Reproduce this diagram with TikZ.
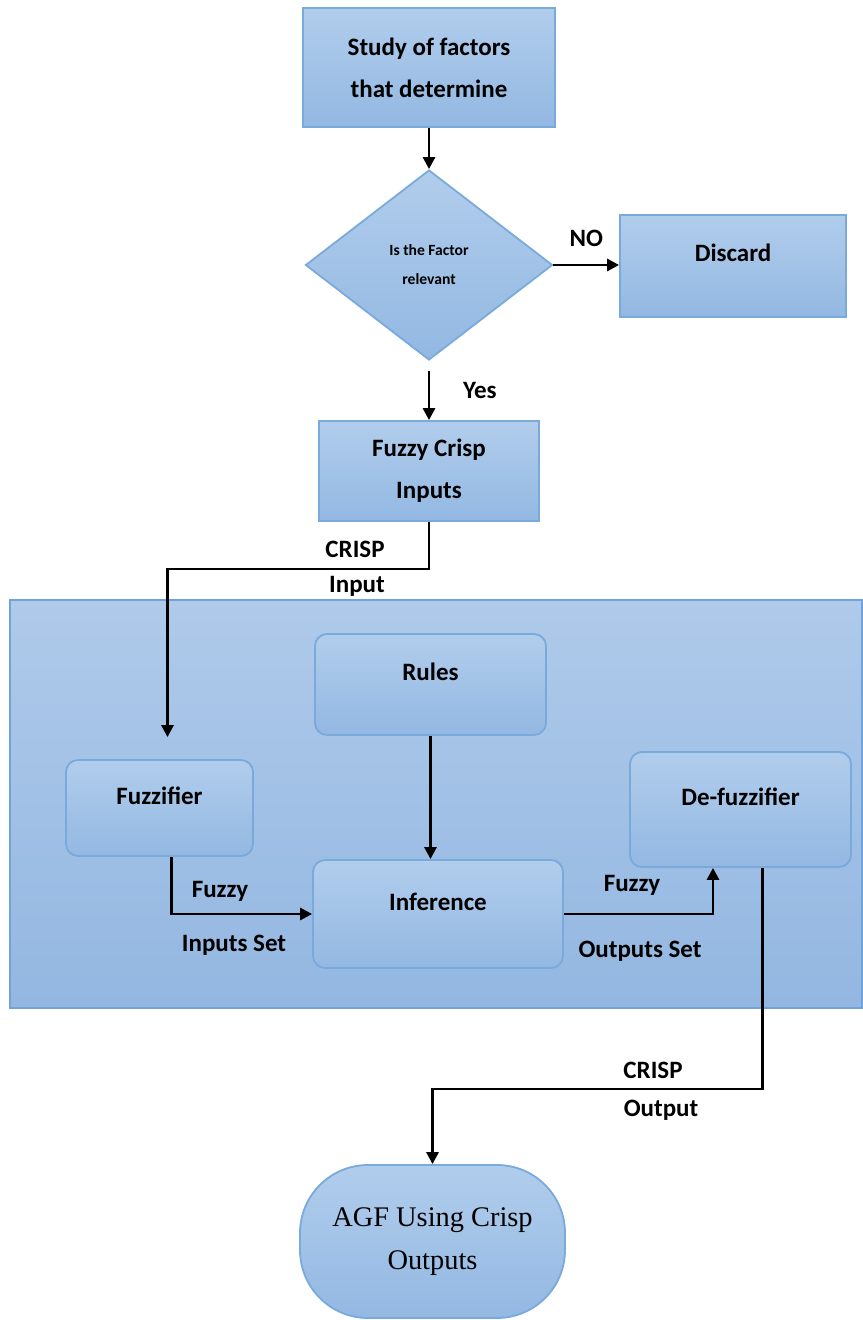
\documentclass[tikz,border=0pt]{standalone}
\usepackage{fontspec}
\setmainfont{Carlito}
\newfontfamily\agffont{Liberation Serif}
\usetikzlibrary{arrows.meta,shapes.geometric,positioning,calc}

\definecolor{boxtop}{HTML}{B1CDEC}
\definecolor{boxbot}{HTML}{93B8E2}
\definecolor{boxline}{HTML}{7AAADC}
\definecolor{paneltop}{HTML}{AFCAEA}
\definecolor{panelbot}{HTML}{93B7E1}
\definecolor{panelline}{HTML}{6FA3DA}

\begin{document}
\begin{tikzpicture}[x=0.5pt, y=-0.5pt,
    every node/.style={font=\bfseries\fontsize{12.5}{21}\selectfont},
    box/.style={draw=boxline, line width=0.9pt, top color=boxtop, bottom color=boxbot, align=center},
    rbox/.style={box, rounded corners=6pt},
    lift/.style={text height=8pt, text depth=12pt},
    panel/.style={draw=panelline, line width=0.9pt, top color=paneltop, bottom color=panelbot},
    flow/.style={line width=1.4pt, -{Triangle[length=6pt,width=6pt]}}]

    \useasboundingbox (0,0) rectangle (862,1320);

    % upper part
    \node (study) [box, minimum width=126pt, minimum height=59.5pt] at (429,67.5) {Study of factors\\that determine};
    \node (decide) [box, diamond, inner sep=0pt, minimum width=123.5pt, minimum height=95pt,
        font=\bfseries\fontsize{7.8}{14.5}\selectfont] at (429,265) {Is the Factor\\relevant};
    \node (discard) [box, lift, minimum width=113pt, minimum height=51pt] at (733,266) {Discard};
    \node (crispin) [box, minimum width=110pt, minimum height=50pt] at (429,471) {Fuzzy Crisp\\Inputs};

    % fuzzy system
    \draw [panel] (10,600) rectangle (862,1008);
    \node (rules) [rbox, lift, minimum width=115.5pt, minimum height=50.5pt] at (430.5,684.5) {Rules};
    \node (fuzzifier) [rbox, lift, minimum width=93.5pt, minimum height=48pt] at (159.5,808) {Fuzzifier};
    \node (inference) [rbox, lift, minimum width=125pt, minimum height=54pt] at (438,914) {Inference};
    \node (defuzz) [rbox, lift, minimum width=110.5pt, minimum height=57.5pt] at (740.5,809.5) {De-fuzzifier};

    \node (agf) [box, rounded corners=34pt, minimum width=132.5pt, minimum height=76.5pt,
        font=\agffont\fontsize{14.2}{21.5}\selectfont] at (432.5,1241.5) {AGF Using Crisp\\Outputs};

    % labels
    \node (crisplbl) at (355,549) {CRISP};
    \node (inputlbl) at (357,586) {Input};
    \node (fuzzyin) at (220,891) {Fuzzy};
    \node (inset) at (234,945) {Inputs Set};
    \node (fuzzyout) at (632,885) {Fuzzy};
    \node (outset) at (640,951) {Outputs Set};
    \node (crispout) at (653,1070) {CRISP};
    \node (outputlbl) at (661,1110) {Output};

    \draw [flow] (study) -- (decide);
    \draw [flow] (decide.east) -- (decide.east -| discard.west) node [midway, above=5pt] {NO};
    \draw [flow, shorten <=5pt] (decide.south) -- (crispin.north) node [midway, right=13pt] {Yes};
    \draw [flow, shorten >=11pt] (crispin.south) -- ++(0,47) -| ([xshift=4pt]fuzzifier.north);
    \draw [flow] (rules) -- (rules |- inference.north);
    \draw [flow] ([xshift=6pt]fuzzifier.south) |- (inference.west);
    \draw [flow] (inference.east) -| ([xshift=-13.75pt]defuzz.south);
    \draw [flow] ([xshift=11pt]defuzz.south) -- ++(0,221) -| (agf.north);
\end{tikzpicture}
\end{document}
